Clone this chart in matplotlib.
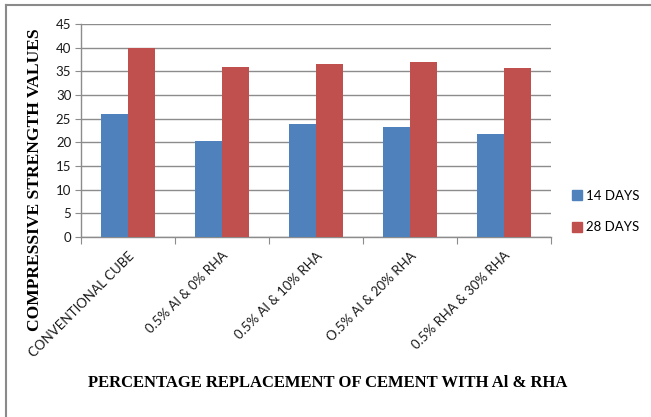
import matplotlib
matplotlib.use("Agg")
import matplotlib.pyplot as plt
from matplotlib.lines import Line2D
import numpy as np

categories = ["CONVENTIONAL CUBE", "0.5% Al & 0% RHA", "0.5% Al & 10% RHA",
              "O.5% Al & 20% RHA", "0.5% RHA & 30% RHA"]
days14 = [26.0, 20.2, 23.9, 23.3, 21.8]
days28 = [40.0, 35.9, 36.5, 37.0, 35.6]
series_names = ["14 DAYS", "28 DAYS"]
yticks = [0, 5, 10, 15, 20, 25, 30, 35, 40, 45]

BLUE = "#4F81BD"
RED = "#C0504D"
GRID = "#8C8C8C"

fig = plt.figure(figsize=(6.51, 4.17), dpi=100)
ax = fig.add_axes([81 / 651, 1 - 237 / 417, 470 / 651, 213 / 417])

x = np.arange(len(categories))
w = 0.287
ax.bar(x - w / 2, days14, width=w, color=BLUE, zorder=3)
ax.bar(x + w / 2, days28, width=w, color=RED, zorder=3)

ax.set_xlim(-0.5, len(categories) - 0.5)
ax.set_ylim(0, 45)
ax.set_yticks(yticks)
ax.yaxis.grid(True, color=GRID, linewidth=1.0, zorder=0)
ax.set_axisbelow(True)

for side in ("top", "right"):
    ax.spines[side].set_visible(False)
for side in ("left", "bottom"):
    ax.spines[side].set_color(GRID)
    ax.spines[side].set_linewidth(1.0)

tick_font = dict(family="Lato", size=9.5, color="#1a1a1a")
ax.set_yticklabels([str(v) for v in yticks], **tick_font)
ax.tick_params(axis="y", length=4, color=GRID, pad=3)

# category separators on the x axis
ax.set_xticks(np.arange(len(categories) + 1) - 0.5)
ax.set_xticklabels([])
ax.tick_params(axis="x", length=5, color=GRID)
for xi, name in zip(x, categories):
    ax.annotate(name, xy=(xi, 0), xycoords=("data", "axes fraction"),
                xytext=(3, -12), textcoords="offset points",
                rotation=45, rotation_mode="anchor", ha="right", va="center",
                **tick_font)

label_font = dict(family="Liberation Serif", weight="bold", color="black")
fig.text(35 / 651, 1 - 180 / 417, "COMPRESSIVE STRENGTH VALUES", rotation=90,
         ha="center", va="center", size=12.6, **label_font)
fig.text(328 / 651, 1 - 383 / 417, "PERCENTAGE REPLACEMENT OF CEMENT WITH Al & RHA",
         ha="center", va="center", size=12, **label_font)

handles = [Line2D([], [], marker="s", linestyle="none", markersize=7,
                  markerfacecolor=c, markeredgecolor=c) for c in (BLUE, RED)]
fig.legend(handles, series_names, loc="upper left",
           bbox_to_anchor=(570 / 651, 1 - 190 / 417), frameon=False,
           prop=dict(family="Lato", size=9.5), handletextpad=0.2,
           labelspacing=1.45, handlelength=1.0, borderaxespad=0,
           borderpad=0)

# chart frame
fig.add_artist(Line2D([6 / 651, 6 / 651], [0, 1 - 5 / 417],
                      transform=fig.transFigure, color="#8A8A8A", linewidth=1.5))
fig.add_artist(Line2D([6 / 651, 1], [1 - 5 / 417, 1 - 5 / 417],
                      transform=fig.transFigure, color="#8A8A8A", linewidth=1.5))

fig.savefig("out.png", dpi=100)
